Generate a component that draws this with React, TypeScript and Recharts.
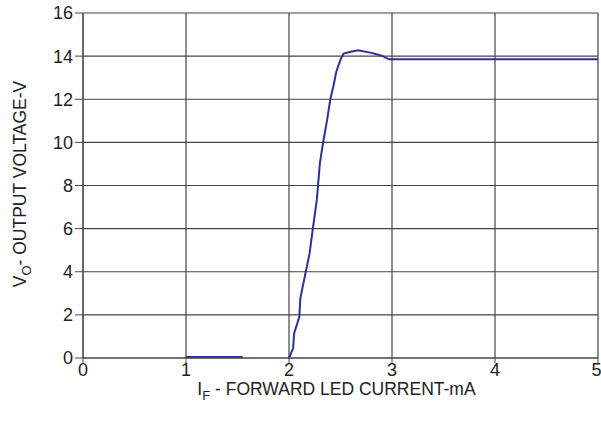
import { LineChart, Line, XAxis, YAxis, CartesianGrid, Label } from "recharts";

// forward LED current (mA) vs output voltage (V)
const currentMA = [
  1.0, 1.2, 1.4, 1.55, 1.8,
  2.0, 2.04, 2.05, 2.1, 2.11, 2.16, 2.2, 2.23, 2.27, 2.3, 2.33, 2.37, 2.4, 2.43,
  2.46, 2.5, 2.53, 2.6, 2.67, 2.8, 2.9, 2.97, 3.5, 4.0, 4.5, 5.0,
];
const outputV: (number | null)[] = [
  0.05, 0.05, 0.05, 0.05, null,
  0, 0.45, 1.15, 1.9, 2.77, 3.93, 4.86, 5.94, 7.33, 9.04, 9.96, 11.04, 11.97, 12.59,
  13.29, 13.84, 14.12, 14.2, 14.27, 14.15, 14.02, 13.85, 13.85, 13.85, 13.85, 13.85,
];

const xTicks = [0, 1, 2, 3, 4, 5];
const yTicks = [0, 2, 4, 6, 8, 10, 12, 14, 16];

const data = currentMA.map((x, i) => ({ x, v: outputV[i] }));

const FONT = "'Liberation Sans', Arial, sans-serif";
const TXT = "#222";

const XTitle = (props: any) => {
  const { viewBox } = props;
  const cx = viewBox.x + viewBox.width / 2 - 4;
  return (
    <text x={cx} y={395} textAnchor="middle" fontFamily={FONT} fontSize={17.5} fill={TXT}>
      <tspan>I</tspan>
      <tspan fontSize={13} dy={5}>F</tspan>
      <tspan dy={-5}> - FORWARD LED CURRENT-mA</tspan>
    </text>
  );
};

const YTitle = () => {
  const cx = 26;
  const cy = 184;
  return (
    <text
      x={cx}
      y={cy}
      transform={`rotate(-90 ${cx} ${cy})`}
      textAnchor="middle"
      fontFamily={FONT}
      fontSize={17.5}
      fill={TXT}
    >
      <tspan>V</tspan>
      <tspan fontSize={13} dy={5}>O</tspan>
      <tspan dy={-5}>- OUTPUT VOLTAGE-V</tspan>
    </text>
  );
};

export default function App() {
  return (
    <div style={{ position: "absolute", left: 0, top: 0, background: "#fff" }}>
      <LineChart
        width={601}
        height={424}
        data={data}
        margin={{ top: 13, right: 3, bottom: 0, left: 0 }}
      >
        <CartesianGrid
          stroke="#444"
          strokeWidth={1.2}
          horizontalValues={yTicks}
          verticalValues={xTicks}
        />
        <XAxis
          dataKey="x"
          type="number"
          domain={[0, 5]}
          ticks={xTicks}
          height={66}
          stroke="#444"
          tickSize={5}
          tick={{ fill: TXT, fontSize: 18, fontFamily: FONT }}
          tickMargin={0}
        >
          <Label content={<XTitle />} />
        </XAxis>
        <YAxis
          type="number"
          domain={[0, 16]}
          ticks={yTicks}
          width={83}
          stroke="#444"
          tickSize={8}
          tickMargin={2}
          tick={{ fill: TXT, fontSize: 18, fontFamily: FONT }}
        >
          <Label content={<YTitle />} />
        </YAxis>
        <Line
          dataKey="v"
          type="linear"
          stroke="#2e3192"
          strokeWidth={2}
          dot={false}
          connectNulls={false}
          isAnimationActive={false}
        />
      </LineChart>
    </div>
  );
}
